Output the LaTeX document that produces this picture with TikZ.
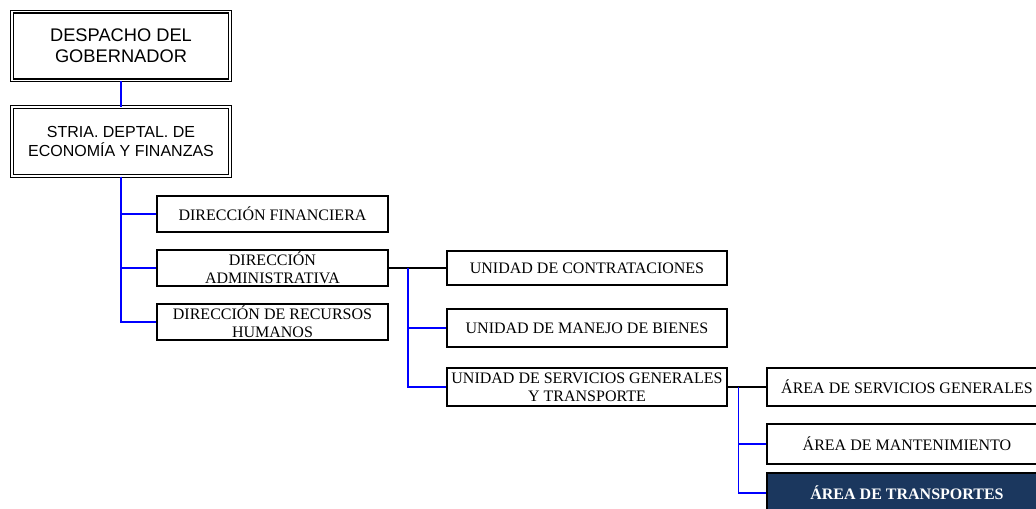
\documentclass[tikz,border=0pt]{standalone}
\usepackage{fontspec}
\setmainfont{Liberation Serif}
\setsansfont{Liberation Sans}
\usetikzlibrary{calc}
\definecolor{navyfill}{RGB}{27,55,94}
\definecolor{lineblue}{RGB}{0,0,255}

\begin{document}
\begin{tikzpicture}[
  x=0.75pt, y=-0.75pt,
  topbox/.style={draw, double, line width=1pt, double distance=1.2pt, minimum width=163.5pt, minimum height=51.5pt, inner sep=2pt, align=center, font=\sffamily\fontsize{13.7}{15.75}\selectfont},
  dirbox/.style={draw, line width=1.4pt, minimum width=173.25pt, minimum height=27pt, inner sep=1pt, align=center, font=\fontsize{12}{13.5}\selectfont},
  unitbox/.style={dirbox, minimum width=210pt, minimum height=29pt},
  hilite/.style={unitbox, fill=navyfill, text=white, font=\bfseries\fontsize{12}{13.5}\selectfont},
  blueln/.style={draw=lineblue, line width=1.3pt},
  blackln/.style={draw=black, line width=1.3pt}
]
  \useasboundingbox (0,0) rectangle (1036,508);
  \node[topbox] (gob) at (121,46) {DESPACHO DEL\\GOBERNADOR};
  \node[topbox, font=\sffamily\fontsize{12}{14}\selectfont] (eco) at (121,141.5) {STRIA. DEPTAL. DE\\ECONOMÍA Y FINANZAS};

  \node[dirbox] (df) at (272.5,214) {DIRECCIÓN FINANCIERA};
  \node[dirbox] (da) at (272.5,268) {DIRECCIÓN\\ADMINISTRATIVA};
  \node[dirbox] (drh) at (272.5,322) {DIRECCIÓN DE RECURSOS\\HUMANOS};

  \node[unitbox, minimum height=25.5pt] (uc) at (587,268) {UNIDAD DE CONTRATACIONES};
  \node[unitbox] (umb) at (587,328) {UNIDAD DE MANEJO DE BIENES};
  \node[unitbox] (usgt) at (587,387) {UNIDAD DE SERVICIOS GENERALES\\Y TRANSPORTE};

  \node[unitbox] (asg) at (907,387) {ÁREA DE SERVICIOS GENERALES};
  \node[unitbox, minimum height=30pt] (am) at (907,444) {ÁREA DE MANTENIMIENTO};
  \node[hilite, minimum height=30pt] (atr) at (907,493) {ÁREA DE TRANSPORTES};

  \draw[blueln] (gob) -- (eco);
  \draw[blueln] (eco.south) |- (drh.west);
  \draw[blueln] (eco.south |- df.west) -- (df.west);
  \draw[blueln] (eco.south |- da.west) -- (da.west);

  \draw[blackln] (da.east) -- (uc.west);
  \coordinate (j1) at ($(da.east)!0.34!(uc.west)$);
  \draw[blueln] (j1) |- (usgt.west);
  \draw[blueln] (j1 |- umb.west) -- (umb.west);

  \draw[blackln] (usgt.east) -- (asg.west);
  \coordinate (j2) at ($(usgt.east)!0.28!(asg.west)$);
  \draw[blueln] (j2) |- (atr.west);
  \draw[blueln] (j2 |- am.west) -- (am.west);
\end{tikzpicture}
\end{document}
